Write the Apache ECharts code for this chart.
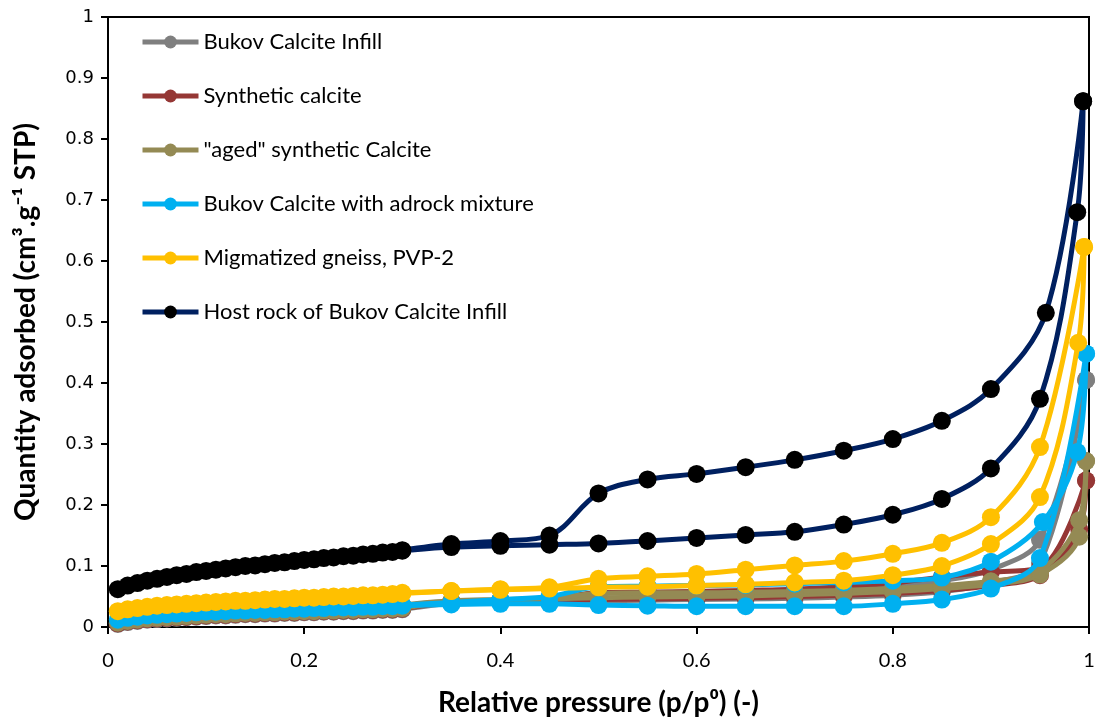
<!DOCTYPE html>
<html>
<head>
<meta charset="utf-8">
<script src="https://cdn.jsdelivr.net/npm/echarts@6/dist/echarts.min.js"></script>
<style>
html,body{margin:0;padding:0;background:#fff;}
#chart{width:1097px;height:719px;}
</style>
</head>
<body>
<div id="chart"></div>
<script>
// ---------- DATA ----------
const SERIES_NAMES = ['Bukov Calcite Infill', 'Synthetic calcite', '"aged" synthetic Calcite',
  'Bukov Calcite with adrock mixture', 'Migmatized gneiss, PVP-2', 'Host rock of Bukov Calcite Infill'];

const X_TICKS = [0, 0.2, 0.4, 0.6, 0.8, 1];
const Y_TICKS = [0, 0.1, 0.2, 0.3, 0.4, 0.5, 0.6, 0.7, 0.8, 0.9, 1];

// low-pressure adsorption pressures (shared)
const P_LOW = [0.01,0.02,0.03,0.04,0.05,0.06,0.07,0.08,0.09,0.10,0.11,0.12,0.13,0.14,0.15,
  0.16,0.17,0.18,0.19,0.20,0.21,0.22,0.23,0.24,0.25,0.26,0.27,0.28,0.29,0.30];
const P_MID = [0.35,0.40,0.45,0.50,0.55,0.60,0.65,0.70,0.75,0.80,0.85,0.90,0.95];

// Bukov Calcite Infill (gray)
const grayAdsLow = [0.005,0.008,0.010,0.012,0.013,0.014,0.015,0.016,0.017,0.018,0.019,0.019,0.020,0.021,0.021,
  0.022,0.022,0.023,0.023,0.024,0.024,0.025,0.025,0.026,0.026,0.027,0.027,0.028,0.028,0.029];
const grayAdsMid = [0.039,0.041,0.042,0.043,0.044,0.045,0.046,0.047,0.049,0.052,0.058,0.072,0.105];
const grayAdsHighP = [0.997];
const grayAdsHighQ = [0.405];
const grayDesP = [0.997,0.95,0.90,0.85,0.80,0.75,0.70,0.65,0.60,0.55,0.50,0.45,0.40,0.35,0.30];
const grayDesQ = [0.405,0.143,0.094,0.076,0.068,0.064,0.061,0.059,0.058,0.057,0.056,0.046,0.043,0.040,0.034];

// Synthetic calcite (red)
const redAdsLow = [0.006,0.009,0.011,0.013,0.014,0.015,0.016,0.017,0.018,0.019,0.020,0.020,0.021,0.022,0.022,
  0.023,0.023,0.024,0.024,0.025,0.025,0.026,0.026,0.027,0.027,0.028,0.028,0.029,0.029,0.030];
const redAdsMid = [0.041,0.043,0.044,0.045,0.046,0.047,0.048,0.050,0.052,0.055,0.060,0.068,0.085];
const redAdsHighP = [0.99,0.997];
const redAdsHighQ = [0.160,0.240];
const redDesP = [0.997,0.95,0.90,0.85,0.80,0.75,0.70,0.65,0.60,0.55,0.50,0.45,0.40,0.35,0.30];
const redDesQ = [0.240,0.097,0.090,0.082,0.072,0.066,0.062,0.060,0.058,0.057,0.056,0.046,0.044,0.042,0.035];

// "aged" synthetic Calcite (olive)
const oliveAdsLow = [0.007,0.010,0.012,0.014,0.015,0.016,0.017,0.018,0.019,0.020,0.021,0.021,0.022,0.023,0.023,
  0.024,0.024,0.025,0.025,0.026,0.026,0.027,0.027,0.028,0.028,0.029,0.029,0.030,0.030,0.031];
const oliveAdsMid = [0.042,0.044,0.046,0.048,0.049,0.050,0.051,0.053,0.055,0.058,0.063,0.070,0.086];
const oliveAdsHighP = [0.99,0.997];
const oliveAdsHighQ = [0.148,0.272];
const oliveDesP = [0.997,0.99,0.95,0.90,0.85,0.80,0.75,0.70,0.65,0.60,0.55,0.50,0.45,0.40,0.35,0.30];
const oliveDesQ = [0.272,0.175,0.092,0.075,0.068,0.063,0.060,0.058,0.057,0.056,0.056,0.055,0.047,0.045,0.043,0.036];

// Bukov Calcite with adrock mixture (cyan)
const cyanAdsLow = [0.012,0.015,0.017,0.019,0.020,0.021,0.022,0.023,0.024,0.025,0.025,0.026,0.027,0.027,0.028,
  0.028,0.029,0.029,0.030,0.030,0.031,0.031,0.032,0.032,0.032,0.033,0.033,0.034,0.034,0.035];
const cyanAdsMid = [0.037,0.038,0.038,0.036,0.035,0.034,0.034,0.034,0.034,0.038,0.045,0.063,0.113];
const cyanAdsHighP = [0.997];
const cyanAdsHighQ = [0.448];
const cyanDesP = [0.997,0.988,0.953,0.90,0.85,0.80,0.75,0.70,0.65,0.60,0.55,0.50,0.45,0.40,0.35,0.30];
const cyanDesQ = [0.448,0.287,0.172,0.107,0.081,0.076,0.073,0.071,0.069,0.068,0.067,0.066,0.050,0.045,0.040,0.036];

// Migmatized gneiss, PVP-2 (yellow)
const yellowAdsLow = [0.026,0.029,0.031,0.033,0.035,0.036,0.037,0.038,0.039,0.040,0.041,0.042,0.043,0.043,0.044,
  0.045,0.046,0.046,0.047,0.048,0.048,0.049,0.050,0.050,0.051,0.052,0.052,0.053,0.054,0.055];
const yellowAdsMid = [0.059,0.061,0.063,0.065,0.066,0.068,0.070,0.073,0.076,0.085,0.100,0.136,0.213];
const yellowAdsHighP = [0.989,0.995];
const yellowAdsHighQ = [0.466,0.623];
const yellowDesP = [0.995,0.95,0.90,0.85,0.80,0.75,0.70,0.65,0.60,0.55,0.50,0.45,0.40,0.35,0.30];
const yellowDesQ = [0.623,0.295,0.180,0.138,0.120,0.108,0.101,0.094,0.087,0.083,0.079,0.065,0.062,0.059,0.056];

// Host rock of Bukov Calcite Infill (navy / black)
const hostAdsLow = [0.062,0.068,0.072,0.076,0.079,0.082,0.085,0.087,0.090,0.092,0.094,0.096,0.098,0.100,0.101,
  0.103,0.105,0.106,0.108,0.110,0.111,0.113,0.114,0.116,0.117,0.119,0.120,0.122,0.123,0.125];
const hostAdsMid = [0.131,0.133,0.135,0.137,0.141,0.146,0.151,0.156,0.168,0.184,0.210,0.260,0.374];
const hostAdsHighP = [0.988,0.994];
const hostAdsHighQ = [0.680,0.862];
const hostDesP = [0.994,0.956,0.90,0.85,0.80,0.75,0.70,0.65,0.60,0.55,0.50,0.45,0.40,0.35,0.30];
const hostDesQ = [0.862,0.515,0.390,0.338,0.308,0.289,0.274,0.262,0.251,0.242,0.219,0.150,0.141,0.136,0.126];

// ---------- BUILD ----------
const STYLE = [
  {line:'#7F7F7F', mark:'#7F7F7F'},
  {line:'#953735', mark:'#953735'},
  {line:'#948A54', mark:'#948A54'},
  {line:'#00B0F0', mark:'#00B0F0'},
  {line:'#FFC000', mark:'#FFC000'},
  {line:'#002060', mark:'#000000'}
];
const SETS = [
  [grayAdsLow, grayAdsMid, grayAdsHighP, grayAdsHighQ, grayDesP, grayDesQ],
  [redAdsLow, redAdsMid, redAdsHighP, redAdsHighQ, redDesP, redDesQ],
  [oliveAdsLow, oliveAdsMid, oliveAdsHighP, oliveAdsHighQ, oliveDesP, oliveDesQ],
  [cyanAdsLow, cyanAdsMid, cyanAdsHighP, cyanAdsHighQ, cyanDesP, cyanDesQ],
  [yellowAdsLow, yellowAdsMid, yellowAdsHighP, yellowAdsHighQ, yellowDesP, yellowDesQ],
  [hostAdsLow, hostAdsMid, hostAdsHighP, hostAdsHighQ, hostDesP, hostDesQ]
];

function pairs(xs, ys){ return xs.map((x,i)=>[x, ys[i]]); }

const series = [];
SETS.forEach((s, i) => {
  const adsP = P_LOW.concat(P_MID, s[2]);
  const adsQ = s[0].concat(s[1], s[3]);
  const common = {
    type:'line', name: SERIES_NAMES[i], smooth: 0.35,
    symbol:'circle', symbolSize: 18,
    lineStyle:{color: STYLE[i].line, width: 5},
    itemStyle:{color: STYLE[i].mark, borderWidth: 0},
    emphasis:{disabled:true}, z: 2 + i
  };
  series.push(Object.assign({}, common, {data: pairs(adsP, adsQ)}));
  series.push(Object.assign({}, common, {data: pairs(s[4], s[5])}));
});

const chart = echarts.init(document.getElementById('chart'), null, {renderer:'canvas'});
chart.setOption({
  animation:false,
  backgroundColor:'#ffffff',
  grid:{left:108, right:8, top:17, bottom:92, show:true, borderColor:'#000', borderWidth:2,
    containLabel:false, outerBoundsMode:'none'},
  legend:{
    data: SERIES_NAMES, orient:'vertical', left:140, top:31, padding:0,
    itemWidth:56, itemHeight:16, itemGap:32,
    lineStyle:{width:5},
    textStyle:{fontFamily:'Lato', fontSize:22, color:'#000'}
  },
  xAxis:{
    type:'value', min:0, max:1, interval:0.2,
    name:'Relative pressure (p/p\u2070) (-)', nameLocation:'middle', nameGap:62,
    nameTextStyle:{fontFamily:'Lato', fontWeight:'bold', fontSize:28, color:'#000'},
    axisLine:{show:true, onZero:false, lineStyle:{color:'#000', width:2}},
    axisTick:{show:true, inside:false, length:7, lineStyle:{color:'#000', width:2}},
    axisLabel:{margin:24, fontFamily:'Lato', fontSize:20, color:'#000',
      formatter: v => { const t = X_TICKS.find(k => Math.abs(k - v) < 1e-9); return t === undefined ? '' : String(t); }},
    splitLine:{show:false}
  },
  yAxis:{
    type:'value', min:0, max:1, interval:0.1,
    name:'Quantity adsorbed (cm\u00b3.g\u207b\u00b9 STP)', nameLocation:'middle', nameGap:68, nameRotate:90,
    nameTextStyle:{fontFamily:'Lato', fontWeight:'bold', fontSize:28, color:'#000'},
    axisLine:{show:true, onZero:false, lineStyle:{color:'#000', width:2}},
    axisTick:{show:true, inside:false, length:7, lineStyle:{color:'#000', width:2}},
    axisLabel:{margin:14, fontFamily:'DejaVu Sans', fontSize:18, color:'#000',
      formatter: v => { const t = Y_TICKS.find(k => Math.abs(k - v) < 1e-9); return t === undefined ? '' : String(t); }},
    splitLine:{show:false}
  },
  series: series
});
</script>
</body>
</html>
